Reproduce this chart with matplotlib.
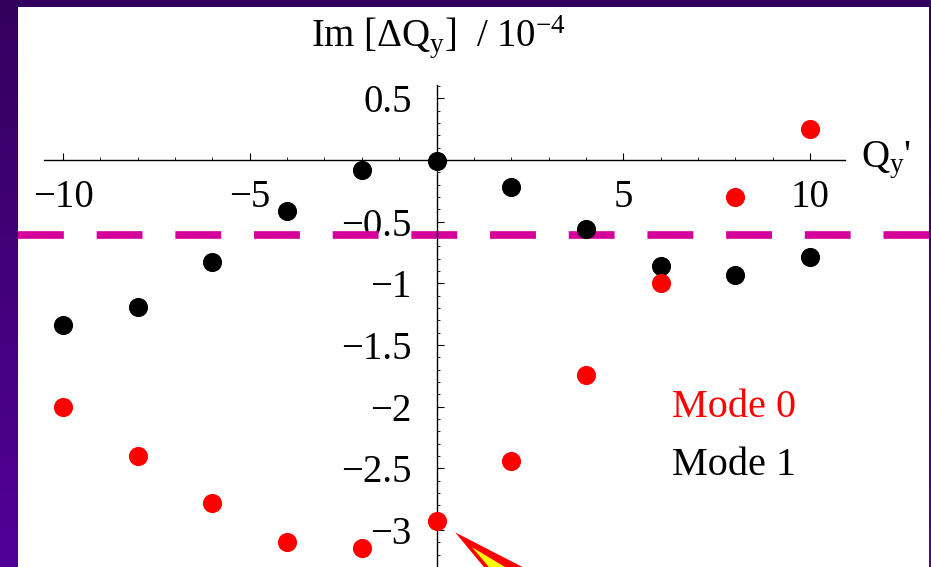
import matplotlib.pyplot as plt
import numpy as np
from matplotlib.patches import Polygon
from matplotlib.ticker import FixedLocator

plt.rcParams["font.family"] = ["Liberation Serif", "DejaVu Serif"]
plt.rcParams["mathtext.fontset"] = "custom"
plt.rcParams["mathtext.rm"] = "Liberation Serif"
plt.rcParams["mathtext.it"] = "Liberation Serif:italic"

# Chromaticity scan, imaginary tune shift in units of 1e-4
qp = [-10, -8, -6, -4, -2, 0, 2, 4, 6, 8, 10]
mode0 = [-2.00, -2.40, -2.78, -3.10, -3.15, -2.93, -2.44, -1.74, -1.00, -0.30, 0.25]
mode1 = [-1.34, -1.19, -0.83, -0.41, -0.08, -0.01, -0.22, -0.56, -0.86, -0.93, -0.79]
threshold = -0.61

x_ticks = [-10, -5, 5, 10]
y_ticks = [0.5, -0.5, -1, -1.5, -2, -2.5, -3]

W, H = 931, 567
fig = plt.figure(figsize=(W / 100, H / 100), dpi=100)

# purple gradient frame
bg = fig.add_axes([0, 0, 1, 1])
grad = np.linspace(0, 1, 256)[:, None]
c_top = np.array([0x34, 0x00, 0x5e]) / 255
c_bot = np.array([0x52, 0x00, 0x98]) / 255
img = c_top[None, None, :] * (1 - grad[..., None]) + c_bot[None, None, :] * grad[..., None]
bg.imshow(np.repeat(img, 4, axis=1), aspect="auto", extent=[0, 1, 0, 1])
bg.axis("off")

# white plotting panel
x0, x1, ytop = 18, 929, 7
ax = fig.add_axes([x0 / W, 0, (x1 - x0) / W, (H - ytop) / H])
ax.set_facecolor("white")

px = 37.35
py = 123.3
ox, oy = 436.5, 160
ax.set_xlim((x0 - ox) / px, (x1 - ox) / px)
ax.set_ylim(-(H - oy) / py, (oy - ytop) / py)

for s in ["top", "right"]:
    ax.spines[s].set_visible(False)
ax.spines["left"].set_position(("data", 0))
ax.spines["bottom"].set_position(("data", 0))
ax.spines["bottom"].set_bounds(-10.5, 10.95)
ax.spines["left"].set_bounds(-3.4, 0.61)
ax.spines["left"].set_linewidth(1.0)
ax.spines["bottom"].set_linewidth(1.0)

ax.xaxis.set_major_locator(FixedLocator(x_ticks))
ax.xaxis.set_minor_locator(FixedLocator([v for v in range(-10, 11) if v % 5 != 0]))
ax.set_xticklabels([f"{v}".replace("-", "\u2212") for v in x_ticks])
ax.yaxis.set_major_locator(FixedLocator(y_ticks))
ax.yaxis.set_minor_locator(FixedLocator(np.round(np.arange(-3.4, 0.65, 0.1), 1)))
ax.set_yticklabels([f"{v:g}".replace("-", "\u2212") for v in y_ticks])

ax.tick_params(axis="both", which="major", direction="in", length=5, width=0.8,
               labelsize=28)
ax.tick_params(axis="both", which="minor", direction="in", length=2.5, width=0.6)
ax.tick_params(axis="x", which="major", pad=14)
ax.tick_params(axis="y", which="major", pad=18)

ax.axhline(threshold, color="#d4009a", lw=5.5, dashes=(6, 4.3), zorder=2)

ax.scatter(qp, mode1, s=190, color="black", zorder=3, clip_on=False, lw=0)
ax.scatter(qp, mode0, s=190, color="red", zorder=3, clip_on=False, lw=0)

ax.text(6.3, -2.01, "Mode 0", color="red", fontsize=29, ha="left", va="center")
ax.text(6.3, -2.48, "Mode 1", color="black", fontsize=29, ha="left", va="center")

ax.text(0.05, 1.0, r"$\mathrm{Im}\ [\mathrm{\Delta Q}_\mathrm{y}]\ \ /\ 10^{-4}$", fontsize=28,
        ha="center", va="center")
ax.text(12.05, 0.0, r"$\mathrm{Q}_\mathrm{y}$'", fontsize=28, ha="center", va="center")

# pointer arrow at the Q'=0 mode 0 point
outer = Polygon([[0.50, -3.02], [3.9, -3.55], [1.95, -3.55]], closed=True,
                facecolor="red", edgecolor="none", zorder=4)
inner = Polygon([[0.95, -3.14], [3.2, -3.55], [2.1, -3.55]], closed=True,
                facecolor="yellow", edgecolor="none", zorder=5)
ax.add_patch(outer)
ax.add_patch(inner)

fig.savefig("out.png", dpi=100)
